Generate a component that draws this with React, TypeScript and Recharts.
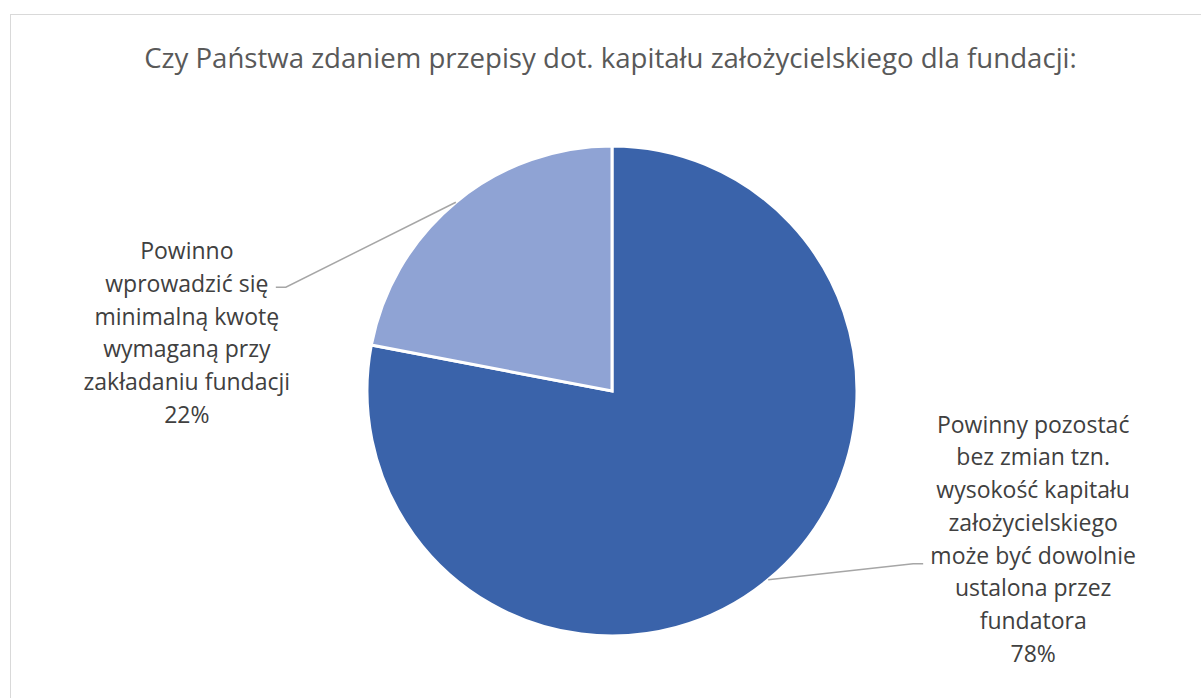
import React from 'react';
import { Pie, PieChart, Cell } from 'recharts';

// categories (label lines as shown in the chart)
const categoryLines: string[][] = [
  [
    'Powinny pozostać',
    'bez zmian tzn.',
    'wysokość kapitału',
    'założycielskiego',
    'może być dowolnie',
    'ustalona przez',
    'fundatora',
  ],
  [
    'Powinno',
    'wprowadzić się',
    'minimalną kwotę',
    'wymaganą przy',
    'zakładaniu fundacji',
  ],
];
const shares = [78, 22];
const colors = ['#3A63AA', '#8FA3D4'];

const data = categoryLines.map((lines, i) => ({
  name: lines.join(' '),
  value: shares[i],
}));

const FONT = '"Open Sans", "Noto Sans", sans-serif';
const LINE_H = 32.7;

// elbow offset from the slice edge, text centre / first line offset from elbow
const labelLayout = [
  { ex: 145, ey: -16, hx: 10, tx: 120, ty: -140 },
  { ex: -170, ey: 85, hx: -10, tx: -99, ty: -37 },
];

const RADIAN = Math.PI / 180;

const renderLabel = (props: any) => {
  const { cx, cy, midAngle, outerRadius, index } = props;
  const sx = cx + outerRadius * Math.cos(-midAngle * RADIAN);
  const sy = cy + outerRadius * Math.sin(-midAngle * RADIAN);
  const l = labelLayout[index];
  const ex = sx + l.ex;
  const ey = sy + l.ey;
  const tx = ex + l.tx;
  const ty = ey + l.ty;
  const lines = [...categoryLines[index], `${shares[index]}%`];
  return (
    <g key={`lbl-${index}`}>
      <polyline
        points={`${sx},${sy} ${ex},${ey} ${ex + l.hx},${ey}`}
        fill="none"
        stroke="#A6A6A6"
        strokeWidth={1.5}
      />
      <text
        x={tx}
        y={ty}
        textAnchor="middle"
        fill="#404040"
        fontFamily={FONT}
        fontSize={23}
      >
        {lines.map((t, i) => (
          <tspan key={i} x={tx} y={ty + i * LINE_H} dominantBaseline="central">
            {t}
          </tspan>
        ))}
      </text>
    </g>
  );
};

export default function App() {
  return (
    <div
      style={{
        position: 'fixed',
        left: 0,
        top: 0,
        width: 1201,
        height: 698,
        overflow: 'hidden',
        background: '#fff',
      }}
    >
      <div
        style={{
          position: 'absolute',
          left: 10,
          top: 14,
          width: 1220,
          height: 720,
          border: '1px solid #D9D9D9',
        }}
      />
      <div
        style={{
          position: 'absolute',
          left: 0,
          top: 37,
          width: 1221,
          textAlign: 'center',
          fontFamily: FONT,
          fontSize: 27.6,
          color: '#595959',
          lineHeight: '40px',
        }}
      >
        Czy Państwa zdaniem przepisy dot. kapitału założycielskiego dla fundacji:
      </div>
      <div style={{ position: 'absolute', left: 0, top: 0 }}>
        <PieChart
          width={1201}
          height={698}
          margin={{ top: 0, right: 0, bottom: 0, left: 0 }}
        >
          <Pie
            data={data}
            dataKey="value"
            nameKey="name"
            cx={612}
            cy={391}
            outerRadius={245}
            startAngle={90}
            endAngle={-270}
            stroke="#fff"
            strokeWidth={3}
            label={renderLabel}
            labelLine={false}
            isAnimationActive={false}
          >
            {data.map((d, i) => (
              <Cell key={d.name} fill={colors[i]} />
            ))}
          </Pie>
        </PieChart>
      </div>
    </div>
  );
}
